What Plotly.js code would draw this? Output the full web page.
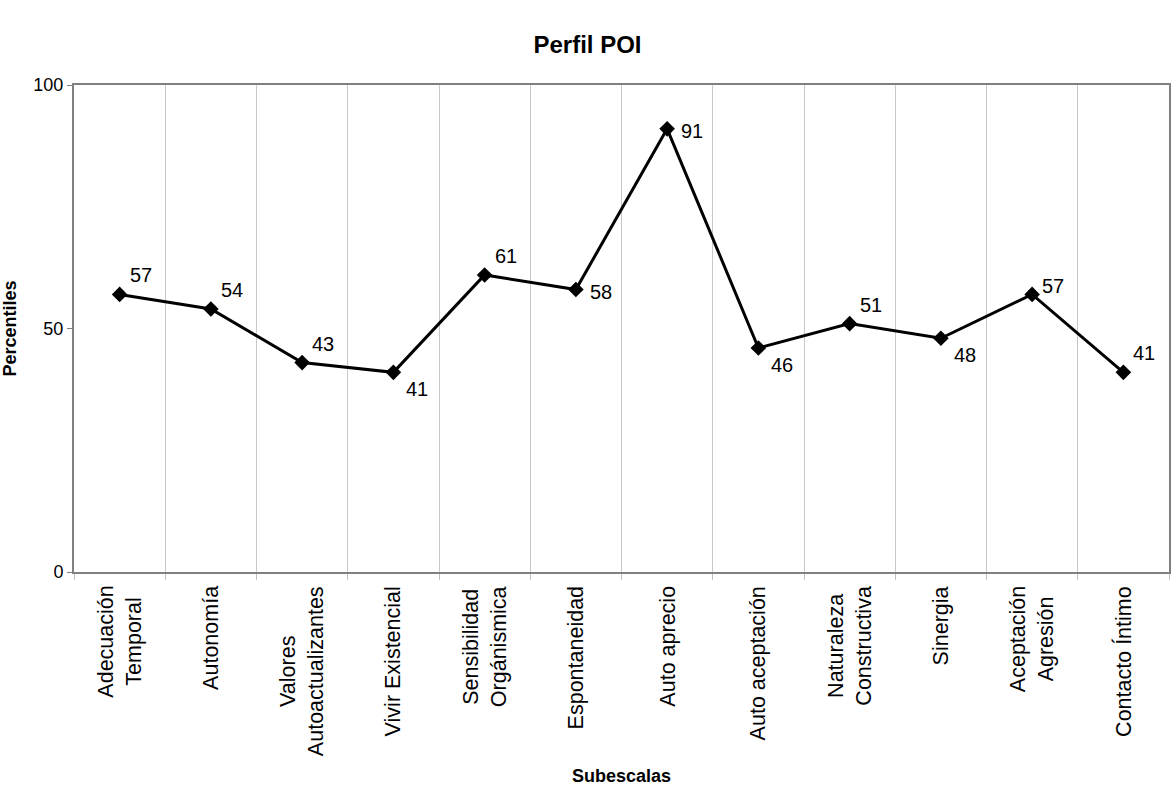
<!DOCTYPE html>
<html>
<head>
<meta charset="utf-8">
<script src="https://cdn.plot.ly/plotly-3.0.1.min.js"></script>
<style>html,body{margin:0;padding:0;background:#fff;}#chart{width:1175px;height:789px;}</style>
</head>
<body>
<div id="chart"></div>
<script>
const categories = ["Adecuación<br>Temporal","Autonomía","Valores<br>Autoactualizantes","Vivir Existencial","Sensibilidad<br>Orgánismica","Espontaneidad","Auto aprecio","Auto aceptación","Naturaleza<br>Constructiva","Sinergia","Aceptación<br>Agresión","Contacto Íntimo"];
const percentiles = [57, 54, 43, 41, 61, 58, 91, 46, 51, 48, 57, 41];
const labelSides = ["above","above","above","below","above","right","right","below","above","below","aboveRight","above"];
const yTicks = [0, 50, 100];

const FONT = "Liberation Sans, Arial, sans-serif";
const SIDE_SHIFT = {
  above: {x: 21, y: 19},
  aboveRight: {x: 21, y: 8},
  below: {x: 24, y: -17},
  right: {x: 25, y: -2}
};

const trace = {
  x: categories,
  y: percentiles,
  type: "scatter",
  mode: "lines+markers",
  line: {color: "#000", width: 3},
  marker: {symbol: "diamond", size: 12, color: "#000"},
  cliponaxis: false,
  hoverinfo: "x+y"
};

const catAnnotations = categories.map(c => ({
  x: c, xref: "x", y: 0, yref: "paper",
  text: c, showarrow: false, textangle: -90,
  xanchor: "center", yanchor: "top", yshift: -12, align: "center",
  font: {family: FONT, size: 21.5, color: "#000"}
}));

const valueAnnotations = percentiles.map((v, i) => ({
  x: categories[i], xref: "x", y: v, yref: "y",
  text: String(v), showarrow: false,
  xanchor: "center", yanchor: "middle",
  xshift: SIDE_SHIFT[labelSides[i]].x, yshift: SIDE_SHIFT[labelSides[i]].y,
  font: {family: FONT, size: 20, color: "#000"}
}));

const layout = {
  width: 1175, height: 789,
  margin: {l: 74, r: 6, t: 85, b: 217},
  paper_bgcolor: "#fff", plot_bgcolor: "#fff",
  showlegend: false,
  font: {family: FONT, color: "#000"},
  title: {text: "<b>Perfil POI</b>", x: 0.5, xanchor: "center", y: 0.944, yanchor: "middle", font: {family: FONT, size: 24, color: "#000"}},
  xaxis: {
    type: "category",
    tickson: "boundaries",
    showticklabels: false,
    ticks: "outside", ticklen: 6, tickcolor: "#c0c0c0",
    showgrid: true, gridcolor: "#c8c8c8", gridwidth: 1,
    showline: true, linecolor: "#808080", linewidth: 2, mirror: true,
    range: [-0.5, 11.5],
    title: {text: "<b>Subescalas</b>", standoff: 196, font: {family: FONT, size: 18, color: "#000"}},
    automargin: false,
    fixedrange: true
  },
  yaxis: {
    range: [0, 100],
    tickvals: yTicks,
    ticktext: yTicks.map(String),
    ticks: "outside", ticklen: 5, tickcolor: "#808080",
    showgrid: false, zeroline: false,
    showline: true, linecolor: "#808080", linewidth: 2, mirror: true,
    tickfont: {family: FONT, size: 18, color: "#000"},
    title: {text: "<b>Percentiles</b>", standoff: 17, font: {family: FONT, size: 18, color: "#000"}},
    automargin: false,
    fixedrange: true
  },
  annotations: catAnnotations.concat(valueAnnotations)
};

Plotly.newPlot("chart", [trace], layout, {displayModeBar: false, staticPlot: true});
</script>
</body>
</html>
